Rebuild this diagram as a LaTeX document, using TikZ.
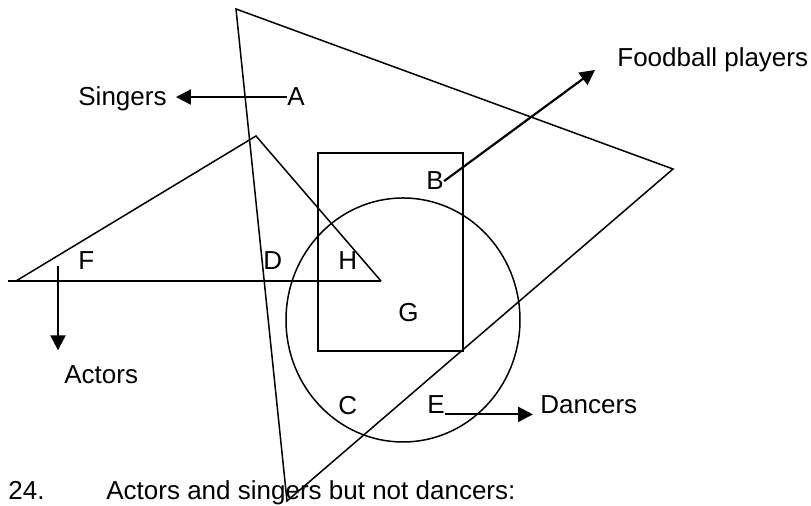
\documentclass[tikz,border=0pt]{standalone}
\usepackage{fontspec}
\setmainfont{Liberation Sans}
\usetikzlibrary{arrows.meta,calc}
\begin{document}
\begin{tikzpicture}[x=0.5pt,y=-0.5pt,
  shape line/.style={line width=0.75pt,black},
  pointer/.style={line width=1.1pt,-{Triangle[length=7.5pt,width=7.5pt]}},
  lbl/.style={inner sep=0pt,anchor=base west,font=\fontsize{13}{15}\selectfont}]
\useasboundingbox (0,0) rectangle (811,506);
% shapes
\draw[shape line] (236,9) -- (673,169) -- (287,501) -- cycle;
\draw[shape line] (16,281) -- (256,136) -- (381,281);
\draw[shape line] (8,281) -- (381,281);
\draw[shape line] (318,153) rectangle (463,351);
\draw[shape line] (403,320) ellipse [x radius=117, y radius=122];
% labels
\node[lbl] (A) at (287,106) {A};
\node[lbl] (singers) at (78,106) {Singers};
\node[lbl] (B) at (426,190) {B};
\node[lbl] (fp) at (617,67) {Foodball players};
\node[lbl] (F) at (78,270) {F};
\node[lbl] (D) at (263,270) {D};
\node[lbl] (H) at (338,270) {H};
\node[lbl] (G) at (398,322) {G};
\node[lbl] (actors) at (64,384) {Actors};
\node[lbl] (C) at (338,415) {C};
\node[lbl] (E) at (427,414) {E};
\node[lbl] (dancers) at (540,414) {Dancers};
\node[lbl] (num) at (8,500) {24.};
\node[lbl] (question) at (106,500) {Actors and singers but not dancers:};
% connectors
\coordinate (fptip) at (595,70);
\coordinate (Fa) at ($(F.west)+(-20,5)$);
\draw[pointer,shorten >=4.5pt] (A.west) -- (A.west -| singers.east);
\draw[pointer] (B.east) -- (fptip);
\draw[pointer,shorten >=7.7pt] (Fa) -- (Fa |- actors.north);
\draw[pointer,shorten >=3.5pt] (E.south east) -- (E.south east -| dancers.west);
\end{tikzpicture}
\end{document}
